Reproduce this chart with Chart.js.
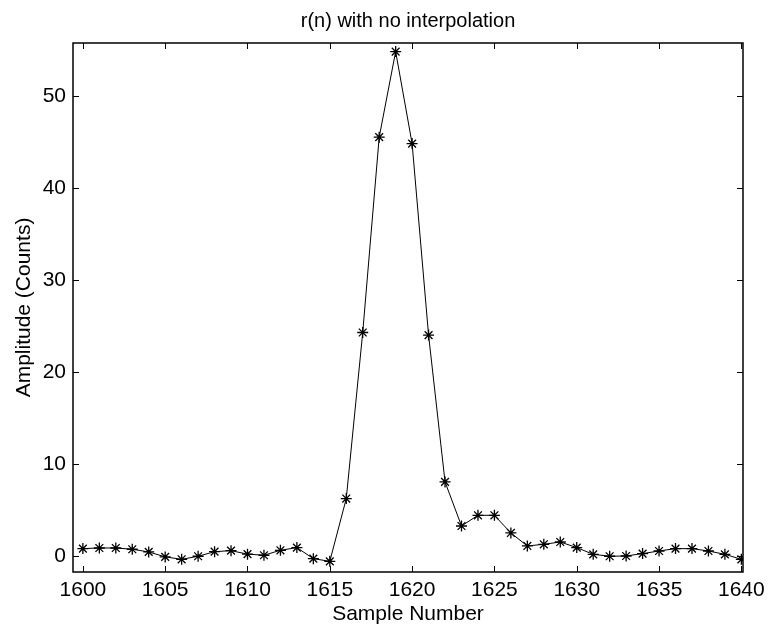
<!DOCTYPE html>
<html>
<head>
<meta charset="utf-8">
<title>r(n) with no interpolation</title>
<script src="https://cdn.jsdelivr.net/npm/chart.js@4/dist/chart.umd.min.js"></script>
<style>
    body { margin: 0; background: #fff; }
    #wrap { width: 769px; height: 627px; }
</style>
</head>
<body>
<div id="wrap"><canvas id="rnChart"></canvas></div>
<script>
// sample index and amplitude
const sampleNumbers = [1600, 1601, 1602, 1603, 1604, 1605, 1606, 1607, 1608, 1609,
    1610, 1611, 1612, 1613, 1614, 1615, 1616, 1617, 1618, 1619,
    1620, 1621, 1622, 1623, 1624, 1625, 1626, 1627, 1628, 1629,
    1630, 1631, 1632, 1633, 1634, 1635, 1636, 1637, 1638, 1639, 1640];
const amplitudes = [0.8, 0.87, 0.87, 0.73, 0.44, -0.1, -0.36, -0.03, 0.47, 0.58,
    0.2, 0.08, 0.62, 0.91, -0.29, -0.58, 6.24, 24.28, 45.5, 54.8,
    44.8, 24.0, 8.05, 3.26, 4.42, 4.42, 2.5, 1.09, 1.27, 1.52,
    0.91, 0.18, -0.03, 0.0, 0.26, 0.54, 0.8, 0.8, 0.54, 0.18, -0.36];

const xTicks = [1600, 1605, 1610, 1615, 1620, 1625, 1630, 1635, 1640];
const yTicks = [0, 10, 20, 30, 40, 50];

const FONT = "'Liberation Sans', Arial, Helvetica, sans-serif";
Chart.defaults.color = '#000';
Chart.defaults.font.family = FONT;
Chart.defaults.font.size = 21;

// matlab style box with ticks pointing inwards
const boxTicks = {
    id: 'boxTicks',
    afterDatasetsDraw(chart) {
        const { ctx, chartArea: a, scales: { x, y } } = chart;
        const len = 6;
        ctx.save();
        ctx.strokeStyle = '#000';
        ctx.lineWidth = 1;
        ctx.beginPath();
        xTicks.forEach(v => {
            const px = Math.round(x.getPixelForValue(v)) + 0.5;
            ctx.moveTo(px, a.bottom);
            ctx.lineTo(px, a.bottom - len);
            ctx.moveTo(px, a.top);
            ctx.lineTo(px, a.top + len);
        });
        yTicks.forEach(v => {
            const py = Math.round(y.getPixelForValue(v)) + 0.5;
            ctx.moveTo(a.left, py);
            ctx.lineTo(a.left + len, py);
            ctx.moveTo(a.right, py);
            ctx.lineTo(a.right - len, py);
        });
        ctx.stroke();
        ctx.lineWidth = 1.5;
        ctx.strokeRect(a.left, a.top, a.right - a.left, a.bottom - a.top);
        ctx.restore();
    }
};

const ctx = document.getElementById('rnChart').getContext('2d');
new Chart(ctx, {
    type: 'line',
    data: {
        datasets: [{
            data: sampleNumbers.map((s, i) => ({ x: s, y: amplitudes[i] })),
            borderColor: '#000',
            borderWidth: 1,
            pointStyle: 'star',
            pointRadius: 5.5,
            pointBorderColor: '#000',
            pointBorderWidth: 1.3,
            pointBackgroundColor: '#000',
            tension: 0,
            fill: false
        }]
    },
    options: {
        responsive: true,
        maintainAspectRatio: false,
        animation: false,
        layout: { padding: { left: 0, right: 26, top: 0, bottom: 0 } },
        plugins: {
            legend: { display: false },
            tooltip: { enabled: false },
            title: {
                display: true,
                fullSize: false,
                text: 'r(n) with no interpolation',
                font: { size: 20, weight: 'normal' },
                padding: { top: 9, bottom: 10 }
            }
        },
        scales: {
            x: {
                type: 'linear',
                min: 1599.4,
                max: 1640.1,
                afterBuildTicks: scale => { scale.ticks = xTicks.map(v => ({ value: v })); },
                afterFit: scale => {
                    scale.height = 55;
                    scale.paddingLeft = 0;
                    scale.paddingRight = 0;
                },
                grid: { display: false, drawTicks: false },
                border: { display: false },
                ticks: { padding: 6, font: { size: 21 }, callback: v => String(v) },
                title: {
                    display: true,
                    text: 'Sample Number',
                    font: { size: 21 },
                    padding: { top: 0, bottom: 0 }
                }
            },
            y: {
                type: 'linear',
                min: -1.74,
                max: 55.73,
                afterBuildTicks: scale => { scale.ticks = yTicks.map(v => ({ value: v })); },
                afterFit: scale => { scale.width = 73; },
                grid: { display: false, drawTicks: false },
                border: { display: false },
                ticks: { padding: 7, font: { size: 21 } },
                title: {
                    display: true,
                    text: 'Amplitude (Counts)',
                    font: { size: 21 },
                    padding: { top: 11.4, bottom: 0 }
                }
            }
        }
    },
    plugins: [boxTicks]
});
</script>
</body>
</html>
